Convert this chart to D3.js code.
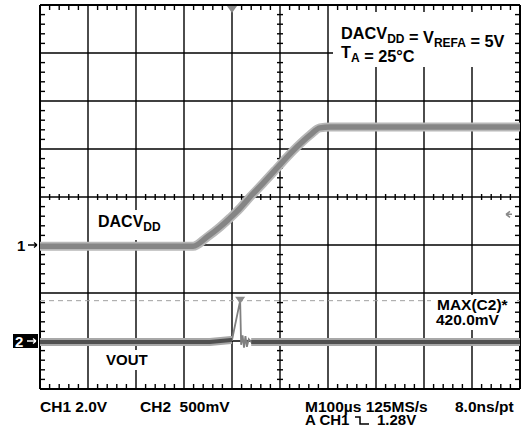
<!DOCTYPE html>
<html>
<head>
<meta charset="utf-8">
<script src="https://cdn.jsdelivr.net/npm/d3@7"></script>
<style>
  html, body { margin: 0; padding: 0; background: #fff; }
  svg { display: block; }
  text { font-family: "Liberation Sans", Arial, sans-serif; font-weight: bold; fill: #000; }
</style>
</head>
<body>
<div id="scope"></div>
<script>
// ── Scope capture: DACVDD power-up glitch on VOUT ──

// time in µs from screen centre (100µs/div, 10 divs)
const ch1Time = [-500, -181, -152, -125, -104, -83, -62.5, -35, -6, 15, 35, 62.5, 83, 104, 500]
// CH1 volts (2.0V/div)
const ch1Volts = [-0.05, -0.05, 0.33, 0.75, 1.13, 1.54, 2.0, 2.58, 3.21, 3.67, 4.08, 4.58, 4.88, 4.92, 4.92]

// CH2 in mV (500mV/div)
const ch2Time = [-500, -146, -102, -100, -83, -81, -78, -75, -72, -69, -65, -60, 500]
const ch2mV = [-10, -10, 10, 10, 420, -40, 60, -70, 50, -60, 20, -10, -10]

const timeDivs = d3.range(-500, 501, 100)
const voltDivs = d3.range(-4, 5, 1)
const maxLevel = 420 // mV, MAX(C2) cursor

const footerLeft = ['CH1 2.0V', 'CH2  500mV']
const footerRight = ['M100µs 125MS/s', '8.0ns/pt']
const triggerText = ['A CH1', '1.28V']

const width = 529, height = 429
const svg = d3.select('#scope').append('svg')
  .attr('width', width).attr('height', height)

const x = d3.scaleLinear().domain([-500, 500]).range([40, 520])
const yDiv = d3.scaleLinear().domain([-4, 4]).range([389, 5])
const y1 = v => yDiv(v / 2 - 1)        // CH1 ground one division below centre
const y2 = mv => yDiv(mv / 500 - 3)    // CH2 ground three divisions below centre

const grid = svg.append('g')

// major grid
grid.selectAll('line.v').data(timeDivs).join('line')
  .attr('x1', d => x(d)).attr('x2', d => x(d))
  .attr('y1', yDiv(-4)).attr('y2', yDiv(4))
  .attr('stroke', '#000').attr('stroke-width', d => Math.abs(d) === 500 ? 2 : 1.4)
grid.selectAll('line.h').data(voltDivs).join('line')
  .attr('y1', d => yDiv(d)).attr('y2', d => yDiv(d))
  .attr('x1', x(-500)).attr('x2', x(500))
  .attr('stroke', '#000').attr('stroke-width', d => Math.abs(d) === 4 ? 2 : 1.4)

// minor ticks: 5 per division
const minorT = d3.range(-500, 501, 20).filter(t => t % 100 !== 0)
const minorV = d3.range(-4, 4.01, 0.2).map(v => +v.toFixed(1)).filter(v => Math.abs(v % 1) > 0.01)

const ticks = []
minorT.forEach(t => {
  ticks.push([x(t), yDiv(4), x(t), yDiv(4) + 5])
  ticks.push([x(t), yDiv(-4), x(t), yDiv(-4) - 5])
  ticks.push([x(t), yDiv(0) - 3, x(t), yDiv(0) + 3])
})
minorV.forEach(v => {
  ticks.push([x(-500), yDiv(v), x(-500) + 5, yDiv(v)])
  ticks.push([x(500), yDiv(v), x(500) - 5, yDiv(v)])
  ticks.push([x(0) - 3, yDiv(v), x(0) + 3, yDiv(v)])
})
grid.selectAll('line.tick').data(ticks).join('line')
  .attr('x1', d => d[0]).attr('y1', d => d[1])
  .attr('x2', d => d[2]).attr('y2', d => d[3])
  .attr('stroke', '#000').attr('stroke-width', 1.4)

// MAX(C2) cursor
svg.append('line')
  .attr('x1', x(-500)).attr('x2', x(500))
  .attr('y1', y2(maxLevel)).attr('y2', y2(maxLevel))
  .attr('stroke', '#a0a0a0').attr('stroke-width', 1)
  .attr('stroke-dasharray', '5,4')

// white boxes behind the annotations
const boxes = [[333, 12, 182, 55], [94, 210, 76, 30], [100, 350, 56, 20], [431, 295, 82, 35]]
svg.selectAll('rect.box').data(boxes).join('rect')
  .attr('x', d => d[0]).attr('y', d => d[1]).attr('width', d => d[2]).attr('height', d => d[3])
  .attr('fill', '#fff')

// CH1 trace
const ch1 = ch1Time.map((t, i) => ({ t, v: ch1Volts[i] }))
const line1 = d3.line().x(d => x(d.t)).y(d => y1(d.v)).curve(d3.curveMonotoneX)
svg.append('path').datum(ch1).attr('d', line1)
  .attr('fill', 'none').attr('stroke', '#b8b8b8').attr('stroke-width', 9)
svg.append('path').datum(ch1).attr('d', line1)
  .attr('fill', 'none').attr('stroke', '#858585').attr('stroke-width', 5.5)

// CH2 trace: wide band on the flat parts, thin line through the glitch
const ch2 = ch2Time.map((t, i) => ({ t, v: ch2mV[i] }))
const line2 = d3.line().x(d => x(d.t)).y(d => y2(d.v))
svg.append('path').datum(ch2).attr('d', line2)
  .attr('fill', 'none').attr('stroke', '#808080').attr('stroke-width', 1.8)
const before = ch2.filter(d => d.t <= -100)
const after = ch2.filter(d => d.t >= -60)
;[before, after].forEach(seg => {
  svg.append('path').datum(seg).attr('d', line2)
    .attr('fill', 'none').attr('stroke', '#a8a8a8').attr('stroke-width', 8)
  svg.append('path').datum(seg).attr('d', line2)
    .attr('fill', 'none').attr('stroke', '#505050').attr('stroke-width', 4)
})

// peak marker on the glitch
const peak = ch2[d3.maxIndex(ch2, d => d.v)]
svg.append('path')
  .attr('d', `M${x(peak.t) - 5},${y2(peak.v) - 4}h10l-5,7z`)
  .attr('fill', '#8a8a8a')

// trigger position marker (top) and trigger level marker (right)
svg.append('path')
  .attr('d', `M${x(-100) - 5},${yDiv(4) + 1}h10l-5,7z`)
  .attr('fill', '#8a8a8a')
svg.append('path')
  .attr('d', `M${x(500) - 8},${y1(1.28)}h-6m0,0l4,-3m-4,3l4,3`)
  .attr('stroke', '#888').attr('stroke-width', 1.5).attr('fill', 'none')

// channel ground markers
svg.append('text').attr('x', 17).attr('y', y1(0) + 6).attr('font-size', 15).text('1')
svg.append('path')
  .attr('d', `M28,${y1(0)}h9m0,0l-3,-2.5m3,2.5l-3,2.5`)
  .attr('stroke', '#000').attr('stroke-width', 1.3).attr('fill', 'none')
svg.append('rect').attr('x', 13).attr('y', y2(0) - 7).attr('width', 25).attr('height', 14).attr('fill', '#000')
svg.append('text').attr('x', 15).attr('y', y2(0) + 6).attr('font-size', 15).style('fill', '#fff').text('2')
svg.append('path')
  .attr('d', `M27,${y2(0)}h9m0,0l-3,-2.5m3,2.5l-3,2.5`)
  .attr('stroke', '#fff').attr('stroke-width', 1.3).attr('fill', 'none')

// annotations
function sub(t, main, s) {
  t.append('tspan').text(main)
  t.append('tspan').attr('dy', 4).attr('font-size', 12).text(s)
  t.append('tspan').attr('dy', -4).text('')
}
const a1 = svg.append('text').attr('x', 341).attr('y', 39).attr('font-size', 16.3)
sub(a1, 'DACV', 'DD')
sub(a1, ' = V', 'REFA')
a1.append('tspan').text(' = 5V')
const a2 = svg.append('text').attr('x', 341).attr('y', 58).attr('font-size', 16.3)
sub(a2, 'T', 'A')
a2.append('tspan').text(' = 25°C')

const a3 = svg.append('text').attr('x', 98).attr('y', 227).attr('font-size', 16)
sub(a3, 'DACV', 'DD')
svg.append('text').attr('x', 106).attr('y', 365).attr('font-size', 15).text('VOUT')

svg.append('text').attr('x', 437).attr('y', 310).attr('font-size', 15.5).text('MAX(C2)*')
svg.append('text').attr('x', 436).attr('y', 325).attr('font-size', 15.5).text((maxLevel).toFixed(1) + 'mV')

// footer
svg.selectAll('text.fl').data(footerLeft).join('text')
  .attr('x', (d, i) => [40, 140][i]).attr('y', 412).attr('font-size', 15.5)
  .attr('xml:space', 'preserve').style('white-space', 'pre').text(d => d)
svg.selectAll('text.fr').data(footerRight).join('text')
  .attr('x', (d, i) => [305, 455][i]).attr('y', 412).attr('font-size', 15.5).text(d => d)
svg.append('text').attr('x', 305).attr('y', 425).attr('font-size', 15).text(triggerText[0])
svg.append('path').attr('d', 'M355,417h5v7h9')
  .attr('stroke', '#000').attr('stroke-width', 1.5).attr('fill', 'none')
svg.append('text').attr('x', 377).attr('y', 425).attr('font-size', 15).text(triggerText[1])
</script>
</body>
</html>
